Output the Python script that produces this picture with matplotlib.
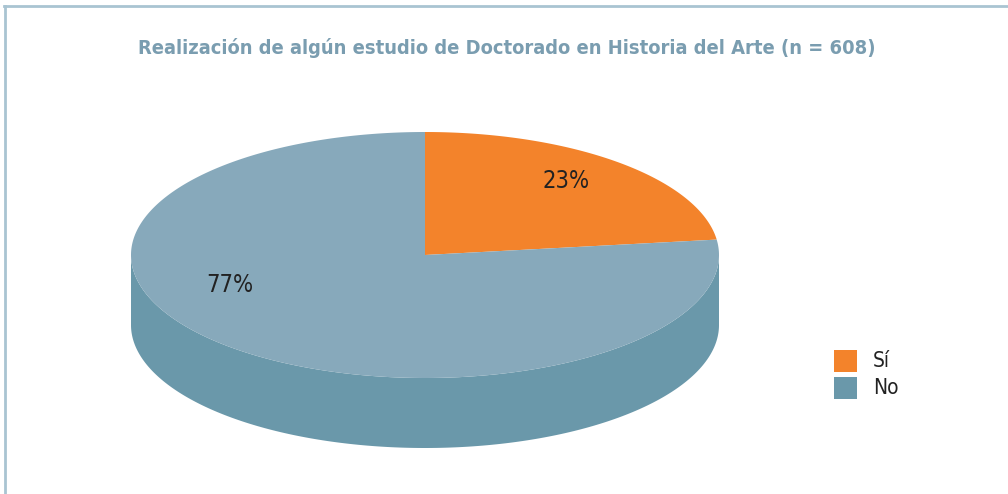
import numpy as np
import matplotlib.pyplot as plt
from matplotlib import font_manager as fm
from matplotlib.patches import Polygon
from matplotlib.lines import Line2D

# data
labels = ['Sí', 'No']
values = [23, 77]
top_colors = ['#f3832b', '#87a9bb']
side_colors = ['#d0651a', '#6a98aa']
title = 'Realización de algún estudio de Doctorado en Historia del Arte (n = 608)'

# pick a narrow font if one is around
names = {f.name for f in fm.fontManager.ttflist}
stretch = 'normal'
if 'Liberation Sans Narrow' in names:
    fam = 'Liberation Sans Narrow'
else:
    fam = 'DejaVu Sans'
    if any(f.name == 'DejaVu Sans' and f.stretch == 'condensed' for f in fm.fontManager.ttflist):
        stretch = 'condensed'
plt.rcParams['font.family'] = [fam, 'DejaVu Sans']
plt.rcParams['font.stretch'] = stretch

W, H = 1008, 494
fig = plt.figure(figsize=(W / 100, H / 100), dpi=100)
ax = fig.add_axes([0, 0, 1, 1])
ax.set_xlim(0, W)
ax.set_ylim(H, 0)
ax.axis('off')

# pie geometry (pixels)
cx, cy = 425, 255
rx, ry = 294, 123
depth = 70

fracs = np.array(values) / sum(values)
bounds = 90 - 360 * np.concatenate([[0], np.cumsum(fracs)])


def pt(t):
    t = np.radians(t)
    return cx + rx * np.cos(t), cy - ry * np.sin(t)


# side walls (front half only)
for i in range(len(values)):
    a0, a1 = bounds[i + 1], bounds[i]
    for shift in (0, 360, -360):
        lo, hi = max(a0 + shift, 180), min(a1 + shift, 360)
        if hi > lo:
            t = np.linspace(lo, hi, 200)
            xs, ys = pt(t)
            verts = list(zip(xs, ys)) + list(zip(xs[::-1], ys[::-1] + depth))
            ax.add_patch(Polygon(verts, closed=True, fc=side_colors[i], ec='none'))

# top faces
for i in range(len(values)):
    t = np.linspace(bounds[i], bounds[i + 1], 300)
    xs, ys = pt(t)
    verts = [(cx, cy)] + list(zip(xs, ys))
    ax.add_patch(Polygon(verts, closed=True, fc=top_colors[i], ec='none'))

# percentage labels
label_pos = [(566, 181), (230, 285)]
for i in range(len(values)):
    lx, ly = label_pos[i]
    ax.text(lx, ly, f'{values[i]}%', ha='center', va='center', fontsize=17, color='#222222')

# title, sized to span the same width as the original
t = ax.text(507, 48, title, ha='center', va='center', fontsize=17, fontweight='bold', color='#7a9db0')
r = fig.canvas.get_renderer()
wpx = t.get_window_extent(r).width
t.set_fontsize(min(17, 17 * 737 / wpx))

# legend
for i, lab in enumerate(labels):
    y = 361 + 27 * i
    ax.add_patch(Polygon([(834, y - 11), (857, y - 11), (857, y + 11), (834, y + 11)],
                         closed=True, fc=top_colors[i] if i == 0 else side_colors[i], ec='none'))
    ax.text(873, y, lab, ha='left', va='center', fontsize=15, color='#222222')

# frame lines
ax.add_line(Line2D([4, W], [6.5, 6.5], color='#a9c4d2', lw=2))
ax.add_line(Line2D([4.5, 4.5], [6, H], color='#a9c4d2', lw=2))

fig.savefig('out.png', dpi=100)
